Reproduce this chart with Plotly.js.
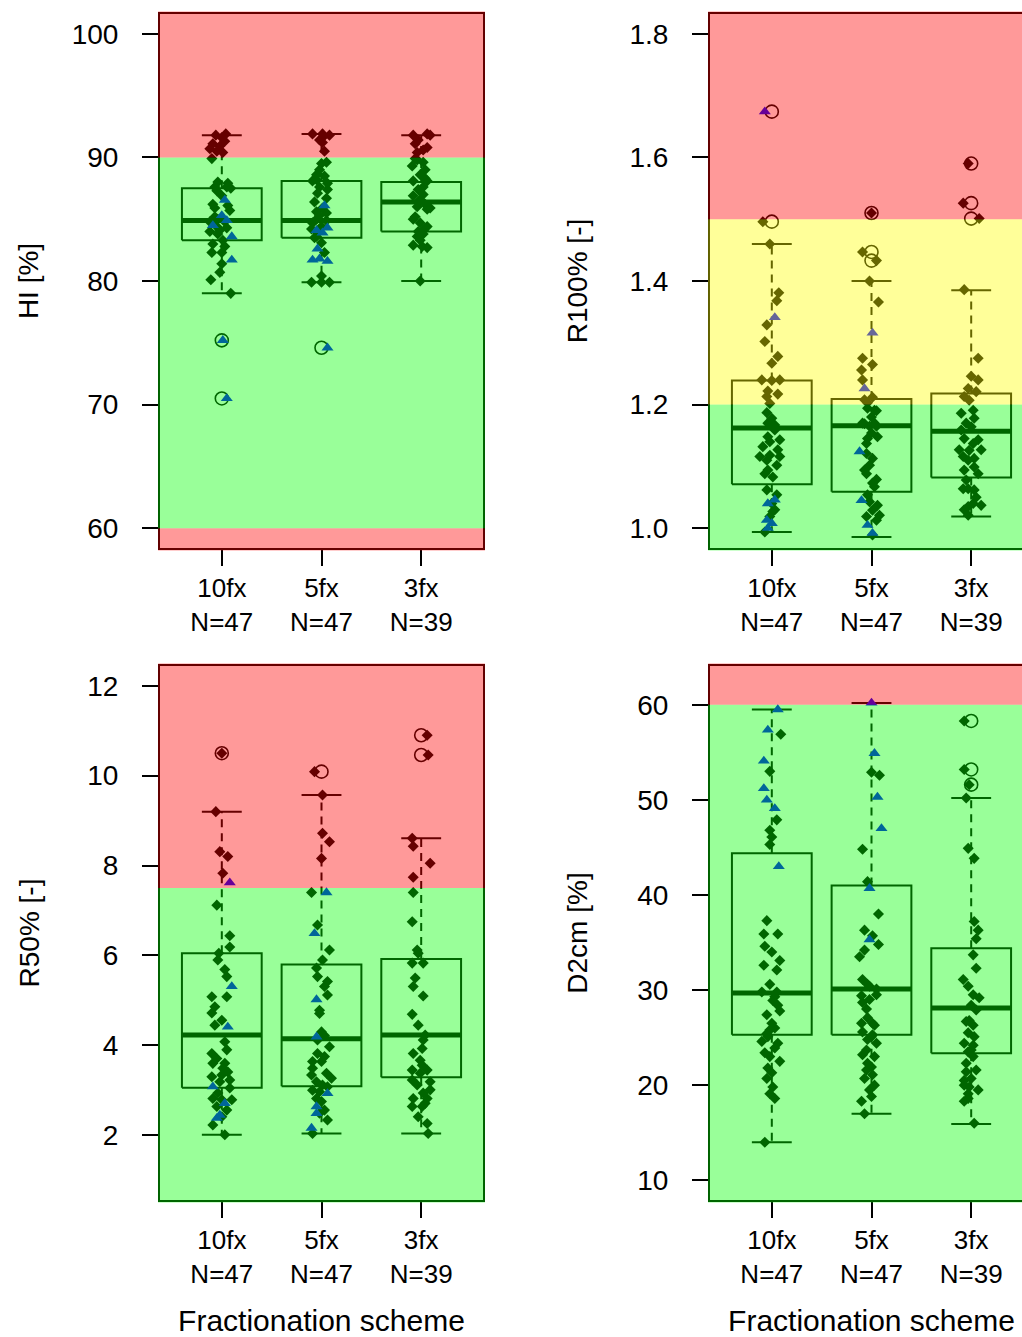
<!DOCTYPE html>
<html>
<head>
<meta charset="utf-8">
<script src="https://cdn.plot.ly/plotly-3.0.1.min.js"></script>
<style>
  html, body { margin: 0; padding: 0; overflow: hidden; background: #ffffff; }
  #chart { width: 1040px; height: 1337px; }
</style>
</head>
<body>
<div id="chart"></div>
<script>
// ---------------- DATA ----------------
const categories = ['10fx', '5fx', '3fx'];
const counts = [47, 47, 39];

// ---- HI [%] ----
const hiQ1 = [83.3, 83.5, 84.0];
const hiMed = [84.9, 84.9, 86.4];
const hiQ3 = [87.5, 88.1, 88.0];
const hiLo = [79.0, 79.9, 80.0];
const hiHi = [91.8, 91.9, 91.8];
const hiOutVal = [75.2, 70.5, 74.6];
const hiOutGrp = [1, 1, 2];
const hiDia10 = [91.8,91.9,91.6,91.1,90.7,90.5,90.9,90.4,91.3,89.9,88.0,87.9,87.6,87.5,87.6,87.3,86.9,86.2,85.9,86.1,85.7,85.0,85.2,84.8,84.8,84.4,84.3,84.0,84.1,83.8,83.3,83.0,82.8,82.3,82.3,81.4,80.7,80.1,79.0];
const hiDia10Dx = [-0.06,0.04,0.00,-0.09,-0.12,-0.05,-0.02,0.01,0.03,-0.10,-0.04,0.06,-0.07,0.09,0.05,-0.05,0.00,-0.09,-0.07,0.06,0.08,-0.04,-0.07,0.03,-0.12,-0.05,0.05,-0.12,-0.02,-0.04,0.01,-0.09,0.03,-0.10,0.00,0.00,-0.02,-0.11,0.09];
const hiTri10 = [86.55,85.3,84.5,84.9,83.6,81.7,75.2,70.5];
const hiTri10Dx = [0.03,0.00,-0.09,0.05,0.10,0.10,0.01,0.05];
const hiDia5 = [91.9,91.9,91.8,91.6,91.4,91.2,90.5,89.6,89.5,89.0,88.6,88.5,88.2,88.1,87.9,87.6,87.4,87.1,86.7,86.4,85.9,85.6,85.3,85.0,84.9,84.7,84.4,84.2,83.6,83.5,83.1,82.3,80.4,79.9,79.9,79.9,83.9,85.5];
const hiDia5Dx = [-0.09,0.01,0.08,0.01,-0.02,0.01,0.03,0.05,0.00,-0.02,-0.05,0.03,-0.05,-0.09,0.06,-0.02,0.06,-0.04,0.05,-0.07,0.01,-0.05,-0.02,-0.05,0.05,-0.09,0.00,-0.10,-0.05,-0.07,0.00,0.03,0.00,-0.10,0.00,0.08,-0.04,0.05];
const hiTri5 = [86.1,84.3,83.9,84.1,82.6,81.7,81.8,81.6,74.6];
const hiTri5Dx = [0.03,0.06,0.01,-0.05,-0.04,-0.09,-0.02,0.06,0.06];
const hiDia3 = [91.8,91.9,91.8,91.4,91.1,90.8,90.6,90.4,89.9,89.8,89.6,89.3,89.0,88.6,88.3,88.1,88.1,87.6,87.4,87.0,86.9,86.6,86.2,86.0,85.9,85.8,85.2,85.0,84.7,84.4,84.1,84.0,83.8,83.6,83.3,82.9,82.8,82.7,80.0];
const hiDia3Dx = [-0.08,0.06,0.09,-0.03,-0.06,0.06,0.02,-0.04,-0.06,-0.04,0.02,-0.09,0.04,-0.01,0.04,-0.08,0.06,0.02,-0.03,0.02,-0.08,-0.01,0.04,-0.04,0.09,0.06,-0.06,-0.08,-0.01,0.06,0.02,-0.03,0.02,-0.04,-0.01,-0.08,0.01,0.06,-0.01];
const hiTri3 = [];
const hiTri3Dx = [];

// ---- R100% [-] ----
const r100Q1 = [1.071, 1.059, 1.082];
const r100Med = [1.162, 1.166, 1.157];
const r100Q3 = [1.239, 1.209, 1.218];
const r100Lo = [0.994, 0.986, 1.019];
const r100Hi = [1.460, 1.400, 1.385];
const r100OutVal = [1.674, 1.496, 1.510, 1.447, 1.433, 1.590, 1.526, 1.501];
const r100OutGrp = [1, 1, 2, 2, 2, 3, 3, 3];
const r100Dia10 = [1.460,1.381,1.368,1.329,1.302,1.278,1.267,1.240,1.239,1.240,1.222,1.217,1.213,1.202,1.187,1.178,1.170,1.167,1.159,1.148,1.143,1.140,1.132,1.127,1.116,1.118,1.116,1.110,1.102,1.094,1.088,1.083,1.062,1.054,1.040,1.030,1.027,1.019,0.994,1.496];
const r100Dia10Dx = [-0.02,0.07,0.05,-0.05,-0.07,0.06,0.00,-0.10,0.00,0.08,-0.04,0.06,-0.05,-0.02,-0.05,0.00,-0.04,0.03,0.03,-0.04,0.08,-0.02,-0.09,0.06,-0.12,-0.02,0.08,-0.05,0.05,-0.04,-0.07,0.01,-0.05,0.05,0.00,0.03,0.01,-0.02,-0.07,-0.09];
const r100Tri10 = [1.341,1.040,1.013,1.008,1.000,1.674,1.046];
const r100Tri10Dx = [0.03,-0.04,-0.05,0.00,-0.04,-0.07,0.03];
const r100Dia5 = [1.400,1.366,1.275,1.265,1.256,1.240,1.212,1.208,1.194,1.190,1.180,1.170,1.170,1.165,1.145,1.121,1.113,1.102,1.079,1.094,1.043,1.029,1.021,1.013,0.989,1.054,1.067,1.137,1.154,1.148,1.169,1.510,1.447,1.433,1.203,1.191,1.088,1.073,1.037,1.019,1.165];
const r100Dia5Dx = [-0.02,0.07,-0.09,0.01,-0.10,-0.09,0.01,-0.07,-0.04,0.05,0.00,-0.09,0.03,-0.02,-0.04,-0.05,0.01,-0.02,0.05,-0.07,-0.02,0.01,0.08,0.05,0.01,-0.04,0.03,-0.05,0.00,0.06,-0.07,0.00,-0.09,0.05,-0.04,0.03,-0.05,0.01,0.06,-0.05,0.05];
const r100Tri5 = [1.316,1.226,1.124,1.045,1.005,0.992];
const r100Tri5Dx = [0.01,-0.07,-0.12,-0.10,-0.04,0.01];
const r100Dia3 = [1.386,1.275,1.246,1.240,1.226,1.221,1.213,1.207,1.191,1.186,1.178,1.170,1.164,1.159,1.145,1.143,1.137,1.127,1.127,1.126,1.116,1.110,1.113,1.094,1.099,1.088,1.078,1.064,1.064,1.062,1.050,1.035,1.037,1.040,1.030,1.021,1.590,1.526,1.501];
const r100Dia3Dx = [-0.07,0.07,0.00,0.07,-0.03,0.05,-0.07,-0.02,0.02,-0.10,0.03,-0.05,0.00,-0.10,-0.07,0.07,0.02,-0.12,0.10,-0.02,-0.08,-0.03,0.03,-0.07,0.03,0.07,-0.05,-0.03,-0.08,0.03,0.05,-0.03,0.10,0.02,-0.07,-0.03,-0.03,-0.08,0.08];
const r100Tri3 = [];
const r100Tri3Dx = [];

// ---- R50% [-] ----
const r50Q1 = [3.06, 3.09, 3.29];
const r50Med = [4.23, 4.15, 4.23];
const r50Q3 = [6.05, 5.80, 5.92];
const r50Lo = [2.01, 2.04, 2.04];
const r50Hi = [9.20, 9.57, 8.61];
const r50OutVal = [10.50, 10.09, 10.90, 10.46];
const r50OutGrp = [1, 2, 3, 3];
const r50Dia10 = [9.20,8.31,8.20,7.83,7.12,6.44,6.19,6.05,5.90,5.69,5.53,5.08,5.08,4.86,4.72,4.56,4.45,4.08,3.90,3.82,3.71,3.60,3.60,3.49,3.41,3.34,3.30,3.23,3.19,3.05,2.94,2.82,2.79,2.79,2.64,2.56,2.41,2.23,2.01,10.50];
const r50Dia10Dx = [-0.06,-0.02,0.06,0.01,-0.05,0.08,0.08,-0.03,-0.04,0.03,0.05,0.05,-0.10,-0.07,-0.10,0.00,-0.07,0.03,0.05,-0.10,-0.05,-0.09,0.03,0.01,0.06,0.00,-0.10,0.08,-0.02,0.08,-0.04,-0.09,0.00,0.10,-0.05,0.05,0.00,-0.09,0.03,0.00];
const r50Tri10 = [7.62,5.31,4.41,3.08,2.71,2.38,2.45];
const r50Tri10Dx = [0.08,0.10,0.06,-0.09,0.03,-0.05,-0.02];
const r50Dia5 = [9.57,8.72,8.53,8.16,7.40,6.68,6.12,5.90,5.72,5.53,5.42,5.31,5.12,4.78,4.71,4.30,4.22,4.12,3.97,3.82,3.75,3.64,3.64,3.49,3.38,3.34,3.27,3.19,3.12,3.08,3.00,2.97,2.82,2.75,2.56,2.49,2.34,2.04,10.09];
const r50Dia5Dx = [0.01,0.01,0.08,0.00,-0.10,-0.04,0.08,0.01,-0.05,-0.04,0.06,0.03,0.06,-0.02,-0.02,0.00,0.03,-0.04,0.08,-0.04,0.03,-0.09,0.00,-0.09,0.05,-0.10,0.10,-0.05,0.01,0.06,-0.09,-0.02,-0.05,0.00,0.03,-0.02,0.06,-0.09,-0.07];
const r50Tri5 = [7.40,6.49,5.02,4.19,2.93,2.64,2.49,2.16];
const r50Tri5Dx = [0.05,-0.07,-0.05,-0.05,0.06,-0.05,-0.05,-0.10];
const r50Dia3 = [8.61,8.43,8.05,7.74,7.40,6.75,6.12,6.05,5.83,5.83,5.50,5.31,5.10,4.69,4.45,4.23,4.12,3.93,3.82,3.67,3.56,3.45,3.45,3.38,3.23,3.19,3.12,3.01,2.94,2.82,2.82,2.71,2.64,2.64,2.41,2.26,2.04,10.90,10.46];
const r50Dia3Dx = [-0.09,-0.08,0.09,-0.08,-0.08,-0.09,-0.04,-0.03,-0.09,0.02,-0.06,-0.08,0.02,-0.09,-0.03,0.04,0.02,0.01,-0.08,-0.01,0.01,-0.09,0.06,-0.01,-0.09,0.09,-0.04,0.09,0.02,-0.08,0.06,0.04,0.01,-0.09,-0.03,0.06,0.07,0.06,0.07];
const r50Tri3 = [];
const r50Tri3Dx = [];

// ---- D2cm [%] ----
const d2Q1 = [25.3, 25.3, 23.35];
const d2Med = [29.7, 30.1, 28.1];
const d2Q3 = [44.4, 41.0, 34.4];
const d2Lo = [14.0, 17.0, 15.9];
const d2Hi = [59.5, 60.2, 50.2];
const d2OutVal = [58.3, 53.2, 51.6];
const d2OutGrp = [3, 3, 3];
const d2Dia10 = [56.9,53.0,47.9,46.8,46.1,45.3,37.3,35.9,35.9,34.6,34.0,33.1,32.6,32.1,30.6,29.8,29.8,29.3,28.9,28.4,27.8,27.4,26.5,26.0,25.8,25.4,25.1,24.6,24.4,23.9,23.4,23.0,22.5,21.8,21.3,20.7,19.8,19.1,18.6,14.0];
const d2Dia10Dx = [0.09,-0.02,0.05,-0.02,0.00,-0.02,-0.05,-0.08,0.06,-0.07,0.00,0.08,-0.08,0.05,-0.02,0.05,-0.10,0.03,0.01,0.06,0.08,-0.05,0.00,0.03,-0.02,-0.05,-0.04,-0.10,0.06,0.03,-0.07,-0.02,0.08,-0.04,0.00,-0.05,0.01,-0.02,0.03,-0.07];
const d2Tri10 = [59.5,57.35,54.1,51.2,50.0,49.1,43.0];
const d2Tri10Dx = [0.06,-0.04,-0.08,-0.08,-0.05,0.03,0.07];
const d2Dia5 = [52.9,52.6,44.8,41.4,38.0,35.7,36.3,34.8,34.2,33.5,31.1,30.6,30.4,30.1,29.5,29.4,29.0,28.7,28.0,27.1,26.5,26.5,26.3,25.6,25.3,25.1,24.8,24.4,23.7,23.2,23.0,22.3,21.9,21.6,21.1,20.7,20.0,19.5,18.8,18.3,17.0];
const d2Dia5Dx = [0.00,0.08,-0.09,-0.04,0.07,0.01,-0.07,0.07,-0.07,-0.12,-0.09,-0.04,-0.02,0.05,0.05,-0.10,-0.02,-0.09,-0.05,-0.04,-0.10,0.01,0.03,-0.09,0.01,0.00,-0.04,0.05,-0.05,-0.09,0.03,-0.04,0.00,-0.05,0.01,-0.07,0.03,-0.02,0.00,-0.10,-0.07];
const d2Tri5 = [60.2,54.9,50.3,47.0,40.7,35.3];
const d2Tri5Dx = [0.00,0.03,0.06,0.10,-0.02,-0.02];
const d2Dia3 = [50.2,44.9,43.85,37.2,36.3,35.4,33.7,32.3,31.1,30.4,29.5,29.2,28.4,27.9,26.8,26.7,26.3,25.5,25.1,24.4,24.2,23.7,23.5,23.0,22.3,21.4,21.6,20.7,20.5,20.0,19.8,19.5,19.1,18.6,18.3,16.0,58.3,53.2,51.6];
const d2Dia3Dx = [-0.05,-0.03,0.03,0.03,0.07,0.05,0.02,0.05,-0.08,-0.03,0.02,0.08,0.00,0.05,-0.02,-0.05,0.02,-0.03,0.03,-0.07,0.02,0.00,-0.03,0.02,-0.05,-0.05,0.05,0.00,-0.07,-0.07,-0.02,0.07,-0.03,-0.03,-0.07,0.03,-0.07,-0.07,-0.02];
const d2Tri3 = [];
const d2Tri3Dx = [];

// Colour zones (limits) for each panel
const hiCuts = [60, 90];        const hiZones = ['red', 'green', 'red'];
const r100Cuts = [1.2, 1.5];    const r100Zones = ['green', 'yellow', 'red'];
const r50Cuts = [7.5];          const r50Zones = ['green', 'red'];
const d2Cuts = [60];            const d2Zones = ['green', 'red'];

// Axis limits and ticks
const hiRange = [58.4, 101.6];   const hiTicks = [60, 70, 80, 90, 100];
const r100Range = [0.968, 1.832]; const r100Ticks = [1.0, 1.2, 1.4, 1.6, 1.8];
const r50Range = [0.56, 12.44];  const r50Ticks = [2, 4, 6, 8, 10, 12];
const d2Range = [7.92, 64.08];   const d2Ticks = [10, 20, 30, 40, 50, 60];

// ---------------- STYLE ----------------
const W = 1040, H = 1337;
const FONT = 'Liberation Sans, Arial, Helvetica, sans-serif';
const BOXW = 0.8, CAPW = 0.4;
const ZONE_COL = {
  red: 'rgba(255,0,0,0.4)',
  green: 'rgba(0,255,0,0.4)',
  yellow: 'rgba(255,255,0,0.4)'
};

function boxTraces(xa, ya, q1, med, q3, lo, hi) {
  const bx = [], by = [], mx = [], my = [], wx = [], wy = [], cx = [], cy = [];
  for (let i = 0; i < q1.length; i++) {
    const c = i + 1, h = BOXW / 2, s = CAPW / 2;
    bx.push(c - h, c + h, c + h, c - h, c - h, null);
    by.push(q1[i], q1[i], q3[i], q3[i], q1[i], null);
    mx.push(c - h, c + h, null); my.push(med[i], med[i], null);
    wx.push(c, c, null, c, c, null); wy.push(q3[i], hi[i], null, q1[i], lo[i], null);
    cx.push(c - s, c + s, null, c - s, c + s, null); cy.push(hi[i], hi[i], null, lo[i], lo[i], null);
  }
  const base = { type: 'scatter', mode: 'lines', xaxis: xa, yaxis: ya, hoverinfo: 'skip', showlegend: false };
  return [
    Object.assign({}, base, { x: wx, y: wy, line: { color: 'black', width: 2, dash: '8px,6px' } }),
    Object.assign({}, base, { x: cx, y: cy, line: { color: 'black', width: 2 } }),
    Object.assign({}, base, { x: bx, y: by, line: { color: 'black', width: 2 } }),
    Object.assign({}, base, { x: mx, y: my, line: { color: 'black', width: 5 } })
  ];
}

function pointTraces(xa, ya, outVal, outGrp, dia, diaDx, tri, triDx) {
  const dx = [], dy = [], tx = [], ty = [];
  for (let g = 0; g < 3; g++) {
    dia[g].forEach((v, k) => { dx.push(g + 1 + diaDx[g][k]); dy.push(v); });
    tri[g].forEach((v, k) => { tx.push(g + 1 + triDx[g][k]); ty.push(v); });
  }
  const base = { type: 'scatter', mode: 'markers', xaxis: xa, yaxis: ya, showlegend: false };
  return [
    Object.assign({}, base, { x: outGrp, y: outVal, marker: { symbol: 'circle-open', size: 13, color: 'black', line: { width: 1.6, color: 'black' } } }),
    Object.assign({}, base, { x: dx, y: dy, marker: { symbol: 'diamond', size: 8.5, color: 'black', line: { width: 0 } } }),
    Object.assign({}, base, { x: tx, y: ty, marker: { symbol: 'triangle-up', size: 10.5, color: 'blue', line: { width: 0 } } })
  ];
}

function zoneShapes(xa, ya, range, cuts, zones) {
  const edges = [range[0] - (range[1] - range[0]), ...cuts, range[1] + (range[1] - range[0])];
  const shapes = [];
  zones.forEach((z, i) => {
    shapes.push({ type: 'rect', layer: 'above', xref: xa + ' domain', yref: ya,
      x0: -0.006, x1: 1.006, y0: edges[i], y1: edges[i + 1],
      fillcolor: ZONE_COL[z], line: { width: 0 } });
  });
  // cover the outer half of the frame at top and bottom
  shapes.push({ type: 'rect', layer: 'above', xref: xa + ' domain', yref: ya + ' domain',
    x0: -0.006, x1: 1.006, y0: 1, y1: 1.0045, fillcolor: ZONE_COL[zones[zones.length - 1]], line: { width: 0 } });
  shapes.push({ type: 'rect', layer: 'above', xref: xa + ' domain', yref: ya + ' domain',
    x0: -0.006, x1: 1.006, y0: -0.0045, y1: 0, fillcolor: ZONE_COL[zones[0]], line: { width: 0 } });
  return shapes;
}

const tickText = categories.map((c, i) => c + '<br>N=' + counts[i]);

function xAxis(domain, withTitle) {
  const ax = {
    domain: domain, range: [0.38, 3.62], tickmode: 'array', tickvals: [1, 2, 3], ticktext: tickText,
    ticks: 'outside', ticklen: 16, tickwidth: 2, tickcolor: 'black',
    showline: true, mirror: true, linecolor: 'black', linewidth: 2,
    showgrid: false, zeroline: false, ticklabelstandoff: 0,
    tickfont: { family: FONT, size: 26, color: 'black' }, fixedrange: true
  };
  if (withTitle) ax.title = { text: 'Fractionation scheme', font: { family: FONT, size: 30, color: 'black' }, standoff: 22 };
  return ax;
}
function yAxis(domain, range, ticks, title, fmt, standoff) {
  return {
    domain: domain, range: range, tickmode: 'array', tickvals: ticks, tickformat: fmt,
    ticks: 'outside', ticklen: 16, tickwidth: 2, tickcolor: 'black',
    showline: true, mirror: true, linecolor: 'black', linewidth: 2,
    showgrid: false, zeroline: false, ticklabelstandoff: 18,
    tickfont: { family: FONT, size: 28, color: 'black' }, fixedrange: true,
    title: { text: title, font: { family: FONT, size: 28, color: 'black' }, standoff: standoff }
  };
}

const xL = [160 / W, 483 / W], xR = [710 / W, 1033 / W];
const yT = [(H - 548) / H, (H - 14) / H], yB = [(H - 1200) / H, (H - 666) / H];

const traces = [].concat(
  boxTraces('x', 'y', hiQ1, hiMed, hiQ3, hiLo, hiHi),
  pointTraces('x', 'y', hiOutVal, hiOutGrp, [hiDia10, hiDia5, hiDia3], [hiDia10Dx, hiDia5Dx, hiDia3Dx], [hiTri10, hiTri5, hiTri3], [hiTri10Dx, hiTri5Dx, hiTri3Dx]),
  boxTraces('x2', 'y2', r100Q1, r100Med, r100Q3, r100Lo, r100Hi),
  pointTraces('x2', 'y2', r100OutVal, r100OutGrp, [r100Dia10, r100Dia5, r100Dia3], [r100Dia10Dx, r100Dia5Dx, r100Dia3Dx], [r100Tri10, r100Tri5, r100Tri3], [r100Tri10Dx, r100Tri5Dx, r100Tri3Dx]),
  boxTraces('x3', 'y3', r50Q1, r50Med, r50Q3, r50Lo, r50Hi),
  pointTraces('x3', 'y3', r50OutVal, r50OutGrp, [r50Dia10, r50Dia5, r50Dia3], [r50Dia10Dx, r50Dia5Dx, r50Dia3Dx], [r50Tri10, r50Tri5, r50Tri3], [r50Tri10Dx, r50Tri5Dx, r50Tri3Dx]),
  boxTraces('x4', 'y4', d2Q1, d2Med, d2Q3, d2Lo, d2Hi),
  pointTraces('x4', 'y4', d2OutVal, d2OutGrp, [d2Dia10, d2Dia5, d2Dia3], [d2Dia10Dx, d2Dia5Dx, d2Dia3Dx], [d2Tri10, d2Tri5, d2Tri3], [d2Tri10Dx, d2Tri5Dx, d2Tri3Dx])
);

const layout = {
  width: W, height: H,
  margin: { l: 0, r: 0, t: 0, b: 0 },
  paper_bgcolor: 'white', plot_bgcolor: 'white',
  showlegend: false,
  font: { family: FONT, size: 28, color: 'black' },
  xaxis: Object.assign(xAxis(xL, false), { anchor: 'y' }),
  yaxis: Object.assign(yAxis(yT, hiRange, hiTicks, 'HI [%]', '', 25), { anchor: 'x' }),
  xaxis2: Object.assign(xAxis(xR, false), { anchor: 'y2' }),
  yaxis2: Object.assign(yAxis(yT, r100Range, r100Ticks, 'R100% [-]', '.1f', 34), { anchor: 'x2' }),
  xaxis3: Object.assign(xAxis(xL, true), { anchor: 'y3' }),
  yaxis3: Object.assign(yAxis(yB, r50Range, r50Ticks, 'R50% [-]', '', 39), { anchor: 'x3' }),
  xaxis4: Object.assign(xAxis(xR, true), { anchor: 'y4' }),
  yaxis4: Object.assign(yAxis(yB, d2Range, d2Ticks, 'D2cm [%]', '', 41), { anchor: 'x4' }),
  shapes: [].concat(
    zoneShapes('x', 'y', hiRange, hiCuts, hiZones),
    zoneShapes('x2', 'y2', r100Range, r100Cuts, r100Zones),
    zoneShapes('x3', 'y3', r50Range, r50Cuts, r50Zones),
    zoneShapes('x4', 'y4', d2Range, d2Cuts, d2Zones)
  )
};

Plotly.newPlot('chart', traces, layout, { displayModeBar: false, staticPlot: true });
</script>
</body>
</html>
